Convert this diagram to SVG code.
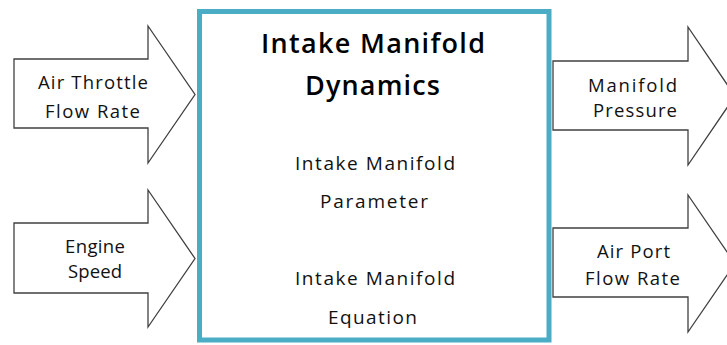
<svg xmlns="http://www.w3.org/2000/svg" width="727" height="345" viewBox="0 0 727 345">
<style>
.arrow{fill:#ffffff;stroke:#404040;stroke-width:1.3;stroke-linejoin:miter}
.box{fill:#ffffff;stroke:#4bacc6;stroke-width:5}
.lbl{font-family:"Open Sans","Liberation Sans",Arial,sans-serif;font-size:18.5px;fill:#111111;text-anchor:middle}
.txt{font-family:"Open Sans","Liberation Sans",Arial,sans-serif;font-size:19px;fill:#111111;text-anchor:middle}
.ttl{font-family:"Open Sans","Liberation Sans",Arial,sans-serif;font-size:27px;font-weight:600;fill:#000000;text-anchor:middle}
</style>
<rect x="0" y="0" width="727" height="345" fill="#ffffff"/>
<g id="connectors">
  <g id="in-throttle">
    <polygon class="arrow" points="14,59 148,59 148,26 195,94.5 148,163 148,128 14,128"/>
    <text class="lbl" x="93" y="89" textLength="110" lengthAdjust="spacing">Air Throttle</text>
    <text class="lbl" x="92.5" y="118" textLength="95" lengthAdjust="spacing">Flow Rate</text>
  </g>
  <g id="in-speed">
    <polygon class="arrow" points="14,223 148,223 148,190 195,258.5 148,327 148,293 14,293"/>
    <text class="lbl" x="95" y="253" textLength="60" lengthAdjust="spacing">Engine</text>
    <text class="lbl" x="95" y="278" textLength="54" lengthAdjust="spacing">Speed</text>
  </g>
  <g id="out-pressure">
    <polygon class="arrow" points="553,61 688,61 688,27 735,96 688,165 688,130 553,130"/>
    <text class="lbl" x="632.5" y="92" textLength="89" lengthAdjust="spacing">Manifold</text>
    <text class="lbl" x="635" y="117" textLength="84" lengthAdjust="spacing">Pressure</text>
  </g>
  <g id="out-portflow">
    <polygon class="arrow" points="553,228 688,228 688,195 735,263.5 688,332 688,297 553,297"/>
    <text class="lbl" x="633.5" y="258" textLength="73" lengthAdjust="spacing">Air Port</text>
    <text class="lbl" x="632.5" y="285" textLength="95" lengthAdjust="spacing">Flow Rate</text>
  </g>
</g>
<g id="intake-manifold">
  <rect class="box" x="199.5" y="11.5" width="349.5" height="328.5"/>
  <text class="ttl" x="373" y="53" textLength="224" lengthAdjust="spacing">Intake Manifold</text>
  <text class="ttl" x="372.5" y="95" textLength="135" lengthAdjust="spacing">Dynamics</text>
  <text class="txt" x="375" y="170" textLength="160" lengthAdjust="spacing">Intake Manifold</text>
  <text class="txt" x="374" y="208" textLength="108" lengthAdjust="spacing">Parameter</text>
  <text class="txt" x="375" y="285" textLength="160" lengthAdjust="spacing">Intake Manifold</text>
  <text class="txt" x="372.5" y="324" textLength="89" lengthAdjust="spacing">Equation</text>
</g>
</svg>
